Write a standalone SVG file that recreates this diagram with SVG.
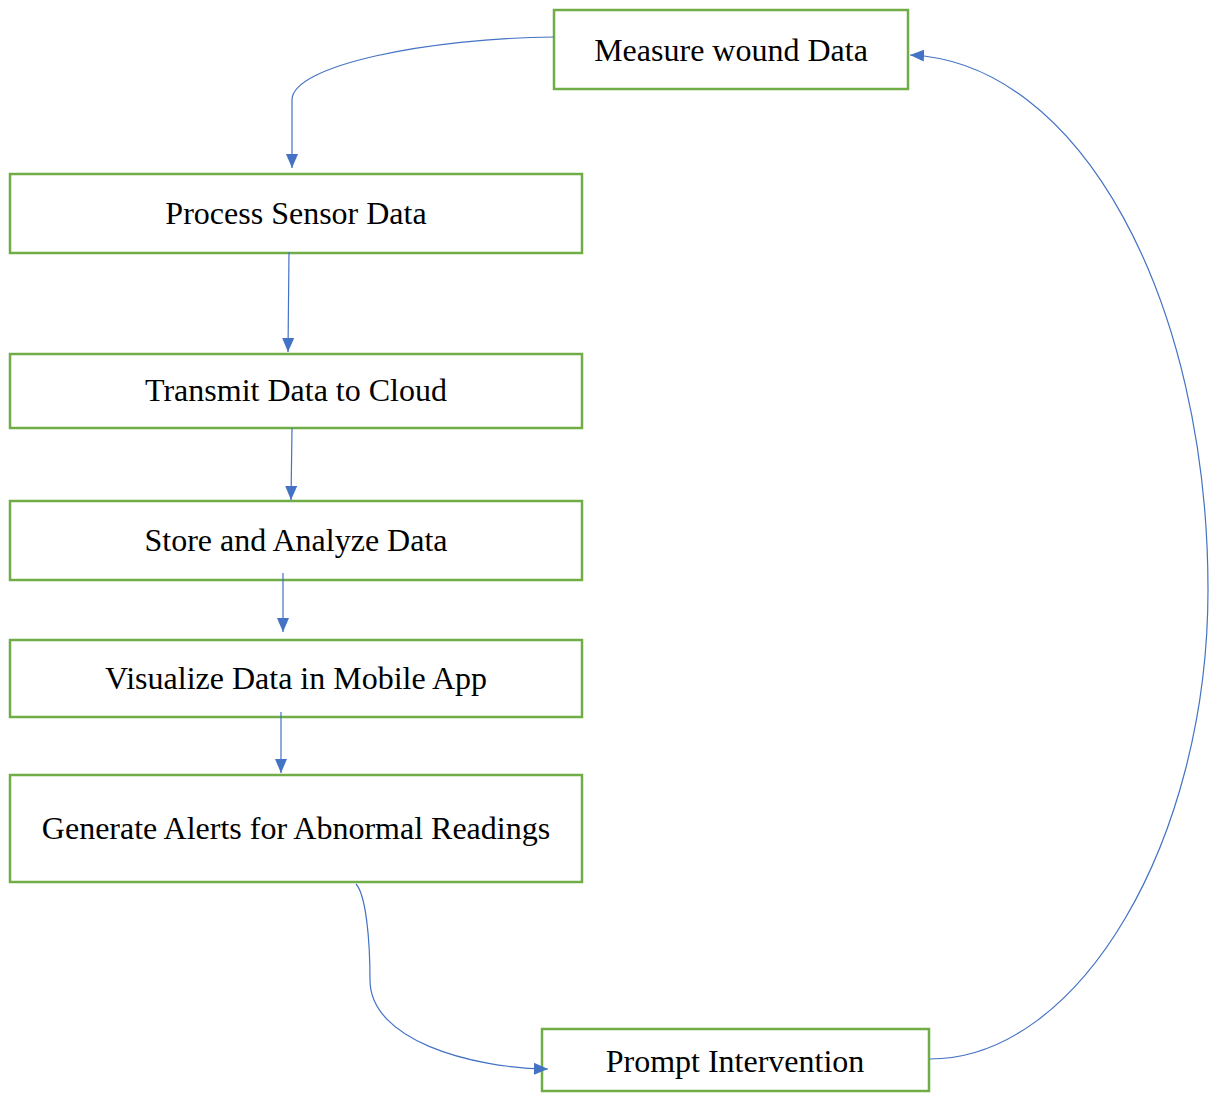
<svg xmlns="http://www.w3.org/2000/svg" width="1209" height="1093" viewBox="0 0 1209 1093">
<style>
.box{fill:#ffffff;stroke:#70AD47;stroke-width:2.5}
.lbl{font-family:"Liberation Serif","Times New Roman",serif;font-size:32px;fill:#000;text-anchor:middle}
.con{fill:none;stroke:#4472C4;stroke-width:1.2}
</style>
<defs>
<marker id="ah" viewBox="0 0 14 12" refX="14" refY="6" markerWidth="14" markerHeight="12" markerUnits="userSpaceOnUse" orient="auto">
<path d="M0,0 L14,6 L0,12 Z" fill="#4472C4"/>
</marker>
</defs>
<rect width="1209" height="1093" fill="#ffffff"/>
<g id="n1"><rect class="box" x="554" y="10" width="354" height="79"/><text class="lbl" x="731" y="61">Measure wound Data</text></g>
<g id="n2"><rect class="box" x="10" y="174" width="572" height="79"/><text class="lbl" x="296" y="224">Process Sensor Data</text></g>
<g id="n3"><rect class="box" x="10" y="354" width="572" height="74"/><text class="lbl" x="296" y="401">Transmit Data to Cloud</text></g>
<g id="n4"><rect class="box" x="10" y="501" width="572" height="79"/><text class="lbl" x="296" y="551">Store and Analyze Data</text></g>
<g id="n5"><rect class="box" x="10" y="640" width="572" height="77"/><text class="lbl" x="296" y="689">Visualize Data in Mobile App</text></g>
<g id="n6"><rect class="box" x="10" y="775" width="572" height="107"/><text class="lbl" x="296" y="839">Generate Alerts for Abnormal Readings</text></g>
<g id="n7"><rect class="box" x="542" y="1029" width="387" height="62"/><text class="lbl" x="735" y="1072">Prompt Intervention</text></g>
<g id="connectors">
<path class="con" marker-end="url(#ah)" d="M554,37 C430,38 292,65 292,100 L292,168"/>
<path class="con" marker-end="url(#ah)" d="M289,252 L288,352"/>
<path class="con" marker-end="url(#ah)" d="M292,428 L291,500"/>
<path class="con" marker-end="url(#ah)" d="M283,573 L283,632"/>
<path class="con" marker-end="url(#ah)" d="M281,712 L281,773"/>
<path class="con" marker-end="url(#ah)" d="M356,884 C366,895 370,940 370,980 C370,1040 470,1068 548,1069"/>
<path class="con" marker-end="url(#ah)" d="M930,1059 C1080,1059 1208,840 1208,590 C1208,300 1080,62 910,55"/>
</g>
</svg>
